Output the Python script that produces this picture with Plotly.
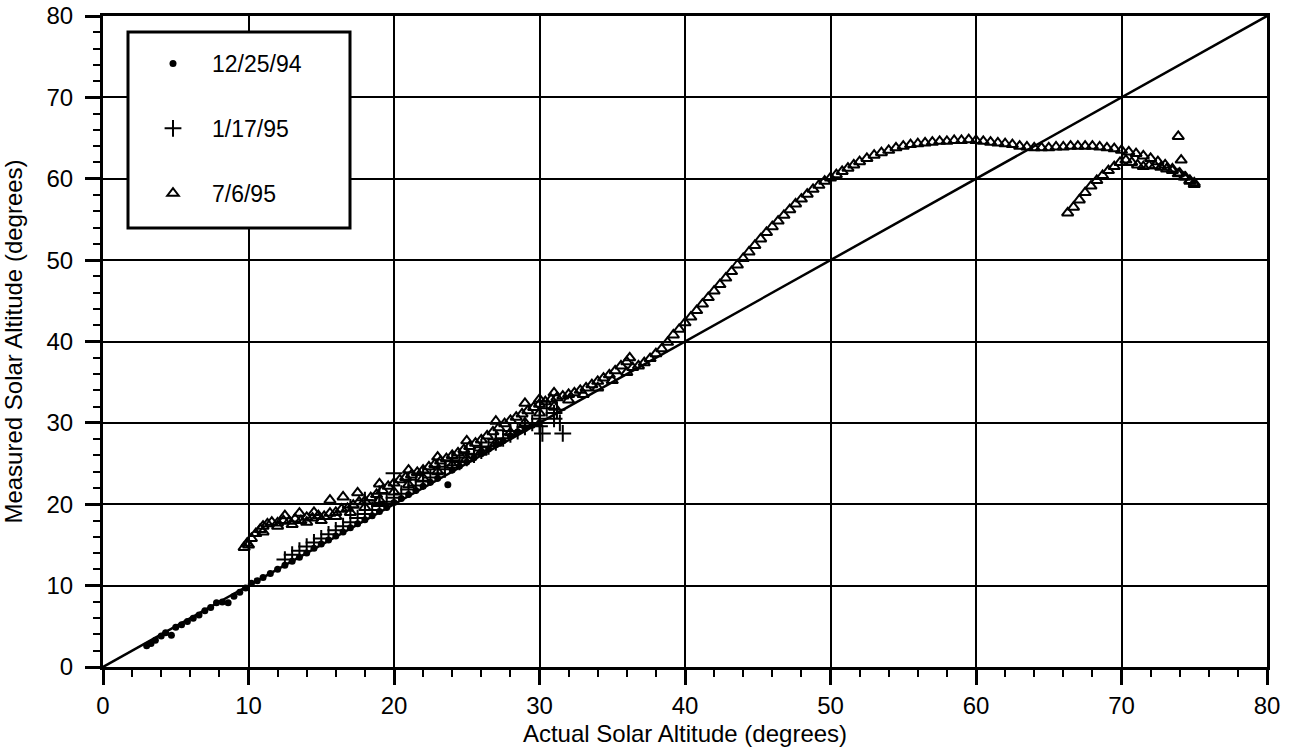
import plotly.graph_objects as go

# ---- data ----
dec_x = [3.0, 3.3, 3.6, 4.0, 4.3, 4.7, 5.0, 5.4, 5.8, 6.2, 6.6, 7.0, 7.4, 7.8, 8.2, 8.6, 9.0, 9.4, 9.8,
         10.2, 10.6, 11.0, 11.5, 12.0, 12.5, 13.0, 13.5, 14.0, 14.5, 15.0, 15.5, 16.0, 16.5, 17.0, 17.5,
         18.0, 18.5, 19.0, 19.5, 20.0, 20.5, 21.0, 21.5, 22.0, 22.5, 23.0, 23.7, 24.0, 24.5, 25.0, 25.5,
         26.0, 26.5, 27.0, 27.5, 28.0, 28.5, 29.0, 29.5, 30.0]
dec_y = [2.6, 2.9, 3.3, 3.8, 4.2, 3.9, 4.9, 5.2, 5.6, 6.0, 6.4, 6.9, 7.3, 7.9, 8.0, 7.9, 8.7, 9.2, 9.7,
         10.3, 10.6, 11.0, 11.5, 12.0, 12.5, 13.0, 13.5, 14.0, 14.6, 15.1, 15.6, 16.1, 16.6, 17.1, 17.6,
         18.1, 18.6, 19.1, 19.6, 20.2, 20.7, 21.2, 21.7, 22.2, 22.7, 23.2, 22.4, 24.2, 24.7, 25.2, 25.7,
         26.2, 26.8, 27.3, 27.8, 28.4, 28.9, 29.3, 29.7, 30.0]

jan_x = [12.5, 13.0, 13.5, 14.0, 14.5, 15.0, 15.5, 16.0, 16.5, 17.0, 17.5, 18.0, 18.5, 19.0, 19.5,
         20.0, 20.5, 21.0, 21.5, 22.0, 22.5, 23.0, 23.5, 24.0, 24.5, 25.0, 25.5, 26.0, 26.5, 27.0,
         27.5, 28.0, 28.5, 29.0, 29.5, 30.0, 30.2, 30.0, 31.0, 31.2, 31.4, 31.6, 31.0, 30.5,
         17.0, 18.0, 19.0, 20.0, 21.0, 22.0, 23.0, 24.0, 25.0, 26.0, 27.0, 28.0]
jan_y = [13.2, 13.8, 14.3, 14.8, 15.3, 15.8, 16.3, 16.8, 17.3, 17.8, 18.3, 18.8, 19.3, 19.8, 20.3,
         20.8, 21.3, 21.8, 22.3, 22.8, 23.3, 23.8, 24.3, 24.8, 25.2, 25.7, 26.1, 26.6, 27.1, 27.6,
         28.1, 28.6, 29.0, 29.5, 30.0, 30.5, 28.7, 29.6, 30.5, 31.6, 30.0, 28.7, 31.2, 31.8,
         19.6, 20.5, 21.3, 23.8, 23.0, 23.8, 24.6, 25.4, 26.2, 27.0, 28.0, 29.0]

jul_x = [9.7, 9.9, 10.2, 10.5, 10.8, 11.0, 11.3, 11.6, 12.0, 12.4, 12.8, 13.2, 13.6, 14.0, 14.4, 14.8,
         15.2, 15.6, 16.0, 16.4, 16.8, 17.2, 17.6, 18.0, 18.4, 18.8, 19.2, 19.6, 20.0, 20.4, 20.8,
         21.2, 21.6, 22.0, 22.4, 22.8, 23.2, 23.6, 24.0, 24.4, 24.8, 25.2, 25.6, 26.0, 26.4, 26.8,
         27.2, 27.6, 28.0, 28.4, 28.8, 29.2, 29.6, 30.0, 30.4, 30.8, 31.2, 31.6, 32.0, 32.4, 32.8,
         33.2, 33.6, 34.0, 34.4, 34.8, 35.2, 35.6, 36.0, 36.2, 36.4, 36.8, 37.2, 37.6, 38.0, 38.4,
         38.8, 39.2, 39.6, 40.0, 40.4, 40.8, 41.2, 41.6, 42.0, 42.4, 42.8, 43.2, 43.6, 44.0, 44.4,
         44.8, 45.2, 45.6, 46.0, 46.4, 46.8, 47.2, 47.6, 48.0, 48.4, 48.8, 49.2, 49.6, 50.0, 50.4,
         50.8, 51.2, 51.6, 52.0, 52.5, 53.0, 53.5, 54.0, 54.5, 55.0, 55.5, 56.0, 56.5, 57.0, 57.5,
         58.0, 58.5, 59.0, 59.5, 60.0, 60.5, 61.0, 61.5, 62.0, 62.5, 63.0, 63.5, 64.0, 64.5, 65.0,
         65.5, 66.0, 66.5, 67.0, 67.5, 68.0, 68.5, 69.0, 69.5, 70.0, 70.5, 71.0, 71.5, 72.0, 72.5,
         73.0, 73.5, 74.0, 74.4, 74.7, 75.0,
         10.0, 11.0, 12.0, 13.0, 14.0, 15.0, 15.6, 16.0, 16.5, 17.0, 18.0, 19.0, 20.0, 21.0, 22.0,
         23.0, 24.0, 25.0, 26.0, 27.0, 28.0, 29.0, 30.0, 31.0, 32.0, 33.0, 34.0, 35.0, 36.0,
         12.5, 13.5, 14.5, 17.5, 19.0, 21.0, 23.0, 25.0, 27.0, 29.0, 30.0, 31.0,
         66.3, 66.7, 67.1, 67.5, 67.9, 68.3, 68.7, 69.1, 69.5, 69.9, 70.3, 70.7, 71.1, 71.5, 71.9,
         72.3, 72.7, 73.1, 73.5, 73.9, 74.3, 74.7, 75.0, 73.9, 74.1]
jul_y = [14.7, 15.2, 15.8, 16.4, 16.9, 17.3, 17.6, 17.8, 17.7, 18.0, 17.9, 18.2, 18.0, 18.4, 18.3, 18.6,
         18.5, 18.9, 19.0, 19.4, 19.5, 19.9, 20.3, 20.4, 20.8, 21.2, 21.7, 22.2, 22.6, 23.0, 23.3,
         23.6, 23.9, 24.2, 24.6, 24.9, 25.3, 25.6, 26.0, 26.3, 26.7, 27.1, 27.5, 27.9, 28.4, 28.9,
         29.4, 29.9, 30.3, 30.7, 31.1, 31.5, 31.9, 32.3, 32.6, 32.9, 33.1, 33.3, 33.5, 33.7, 34.0,
         34.3, 34.7, 35.1, 35.5, 35.9, 36.4, 37.0, 37.5, 38.0, 36.8, 37.0, 37.4, 37.9, 38.5, 39.1,
         39.9, 40.8, 41.5, 42.3, 43.0, 43.8, 44.6, 45.4, 46.2, 47.0, 47.8, 48.6, 49.4, 50.2, 51.0,
         51.8, 52.6, 53.4, 54.1, 54.8, 55.5, 56.2, 56.9, 57.5, 58.1, 58.7, 59.2, 59.7, 60.1, 60.5,
         60.9, 61.3, 61.7, 62.1, 62.5, 62.9, 63.2, 63.5, 63.8, 64.0, 64.2, 64.3, 64.4, 64.5, 64.6,
         64.6, 64.7, 64.7, 64.8, 64.7, 64.6, 64.5, 64.4, 64.3, 64.2, 64.0, 63.9, 63.8, 63.8, 63.8,
         63.9, 63.9, 64.0, 64.0, 64.0, 64.0, 63.9, 63.8, 63.7, 63.5, 63.3, 63.1, 62.8, 62.5, 62.1,
         61.7, 61.2, 60.7, 60.2, 59.8, 59.3,
         15.0, 16.6, 17.3, 17.5, 17.8, 18.0, 20.5, 18.5, 20.9, 19.0, 19.6, 20.5, 21.5, 22.4, 23.2,
         24.0, 24.8, 25.6, 26.4, 27.5, 28.8, 30.0, 31.2, 32.0, 32.8, 33.5, 34.3, 35.2, 36.2,
         18.6, 18.9, 19.0, 21.4, 22.5, 24.2, 25.8, 27.8, 30.2, 32.4, 32.9, 33.7,
         55.8, 56.5, 57.4, 58.3, 59.1, 59.8, 60.4, 61.0, 61.5, 62.0, 62.3, 62.0, 61.7, 61.5, 61.6,
         61.6, 61.4, 61.2, 61.0, 60.6, 60.2, 59.7, 59.5, 65.2, 62.3]

diag_x = [0, 80]
diag_y = [0, 80]

x_range = [0, 80]
y_range = [0, 80]

FONT = "Arial, Liberation Sans, Helvetica, sans-serif"

# page body margin is removed by post_script, so figure sits at (0, 0)
W, H = 1291, 754
ML, MR, MT, MB = 103, 24, 16, 87
PW = W - ML - MR
PH = H - MT - MB


def px_x(p):
    return (p - ML) / PW


def px_y(p):
    return (H - MB - p) / PH


fig = go.Figure()
fig.add_trace(go.Scatter(x=diag_x, y=diag_y, mode="lines", line=dict(color="black", width=2.5),
                         showlegend=False, hoverinfo="skip"))
fig.add_trace(go.Scatter(x=dec_x, y=dec_y, mode="markers", name="12/25/94", legendgroup="a",
                         marker=dict(symbol="circle", size=7, color="black")))
fig.add_trace(go.Scatter(x=jan_x, y=jan_y, mode="markers", name="1/17/95", legendgroup="b",
                         marker=dict(symbol="cross-thin-open", size=12, color="black",
                                     line=dict(color="black", width=2))))
fig.add_trace(go.Scatter(x=jul_x, y=jul_y, mode="markers", name="7/6/95", legendgroup="c",
                         marker=dict(symbol="triangle-up-open", size=10, color="black",
                                     line=dict(color="black", width=2))))

axis_common = dict(
    showline=True, linecolor="black", linewidth=3, mirror=True,
    showgrid=True, gridcolor="black", gridwidth=2,
    zeroline=False, dtick=10, tick0=0,
    ticks="outside", ticklen=15, tickwidth=2.5, tickcolor="black",
    tickfont=dict(family=FONT, size=24, color="black"),
    ticklabeloverflow="allow",
    minor=dict(dtick=2, ticks="outside", ticklen=7, tickwidth=2, tickcolor="black", showgrid=False),
)
fig.update_xaxes(range=x_range, title=dict(text="Actual Solar Altitude (degrees)", standoff=8,
                 font=dict(family=FONT, size=24, color="black")), **axis_common)
fig.update_yaxes(range=y_range, ticklabelstandoff=7,
                 title=dict(text="Measured Solar Altitude (degrees)", standoff=20,
                            font=dict(family=FONT, size=24, color="black")), **axis_common)

# legend frame (paper coordinates)
fig.add_shape(type="rect", xref="paper", yref="paper",
              x0=px_x(128), x1=px_x(350), y0=px_y(228), y1=px_y(32),
              line=dict(color="black", width=3), fillcolor="white", layer="above")

fig.update_layout(
    width=W, height=H,
    margin=dict(l=ML, r=MR, t=MT, b=MB, autoexpand=False),
    paper_bgcolor="white", plot_bgcolor="white",
    font=dict(family=FONT, color="black"),
    legend=dict(x=px_x(134), y=px_y(42), xanchor="left", yanchor="top",
                bgcolor="rgba(0,0,0,0)", borderwidth=0, itemwidth=68,
                tracegroupgap=32, font=dict(family=FONT, size=23, color="black")),
)

fig.write_html("out.html", config={"displayModeBar": False},
               post_script="document.body.style.margin='0';")
